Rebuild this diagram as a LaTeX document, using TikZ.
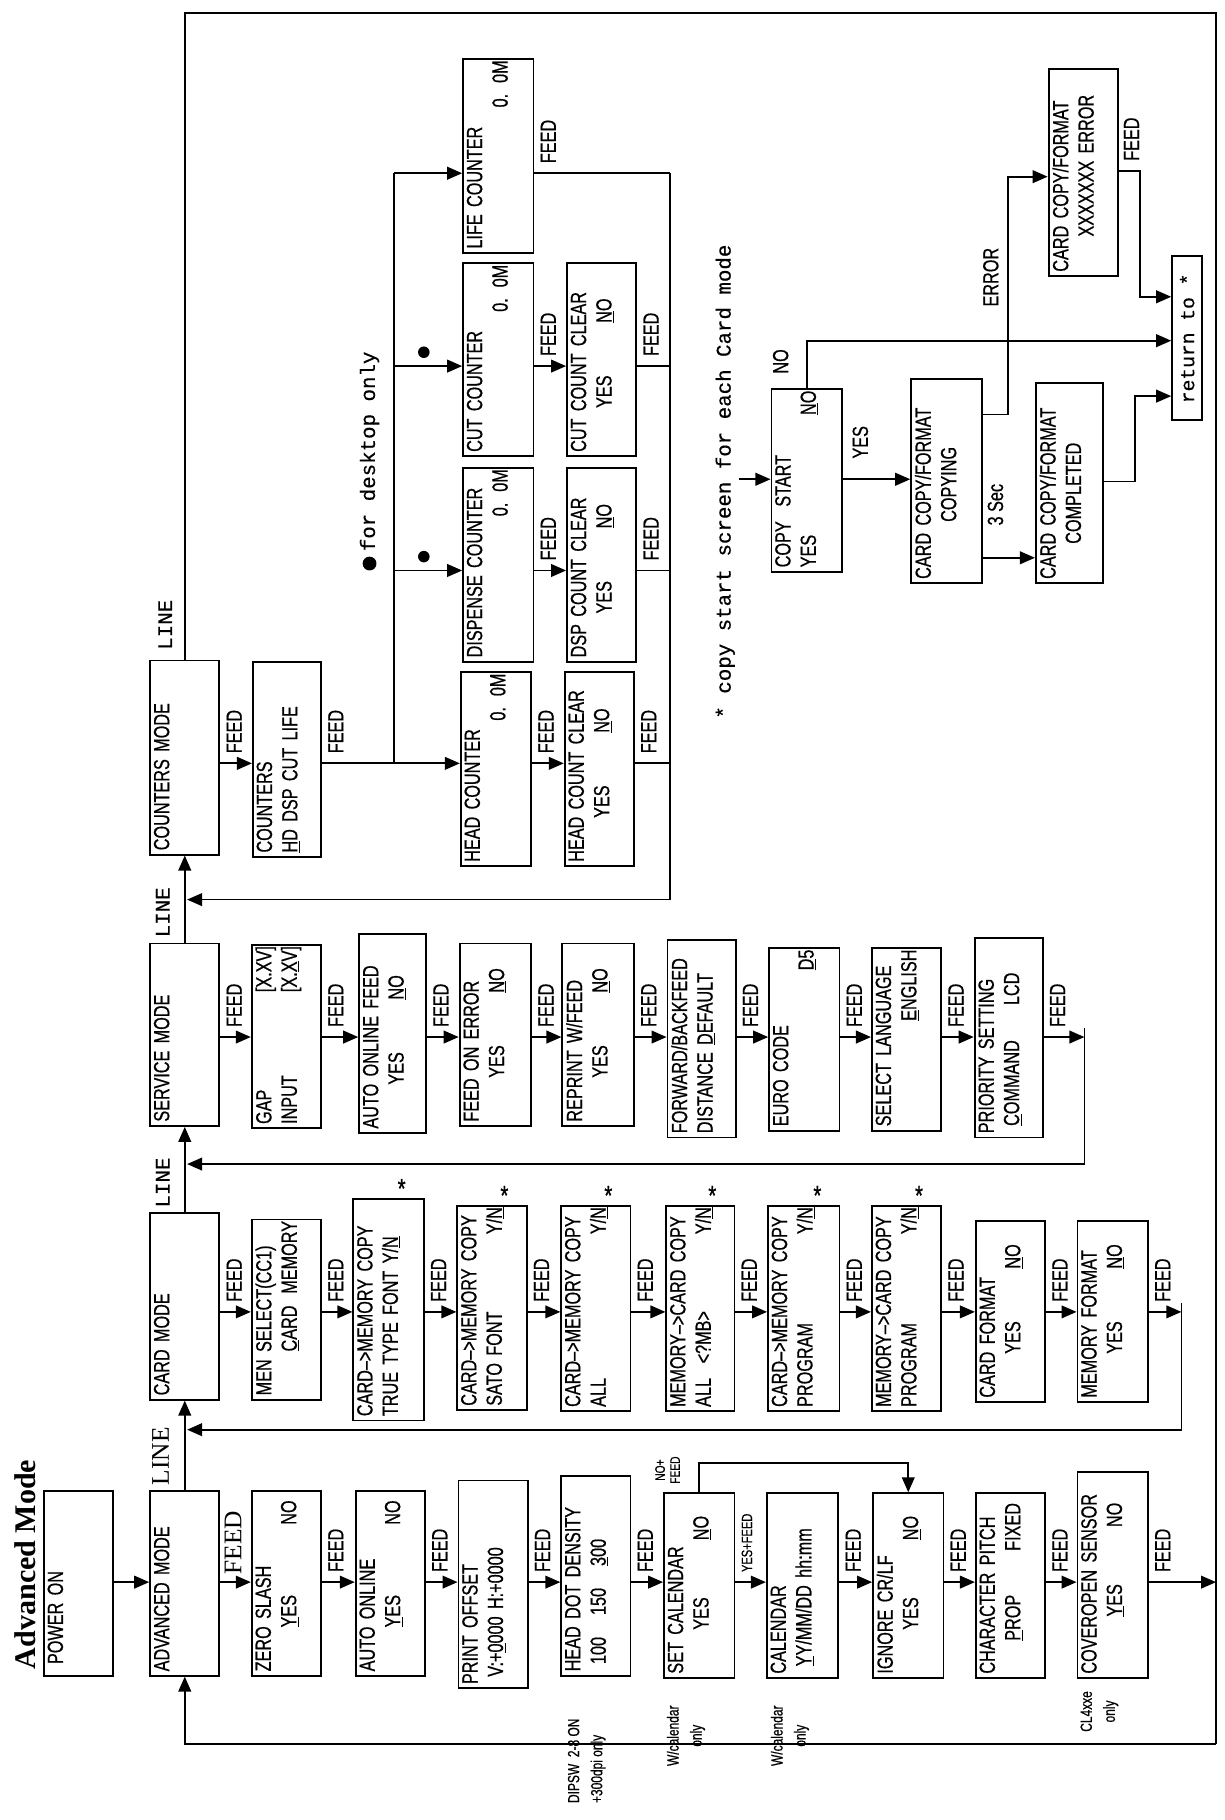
\documentclass[tikz,border=0pt]{standalone}
\usepackage{fontspec}
\usetikzlibrary{arrows.meta}
\newfontfamily\gfont[FakeStretch=0.74,FakeBold=0.6]{Liberation Sans}
\newfontfamily\mfont[FakeBold=0.4]{Liberation Mono}
\newfontfamily\sfont{Liberation Serif}
\newcommand\bxf{\gfont\fontsize{19}{22}\selectfont}
\newcommand\lbf{\gfont\fontsize{19}{20}\selectfont}
\newcommand\smf{\gfont\fontsize{14}{20}\selectfont}
\newcommand\mnf{\mfont\fontsize{18}{20}\selectfont}
\newcommand\bx[6]{%
  \pgfmathsetmacro\bxw{#4-#2}\pgfmathsetmacro\bxh{#5-#3}\pgfmathsetmacro\bxt{#5-#3-5}%
  \node[box,minimum width=\bxw pt,minimum height=\bxh pt] (#1) at ({(#2+#4)/2},{(#3+#5)/2}) {};
  \node[txt,text width=\bxt pt,anchor=north west] at (#2+0.5,#5-1) {#6};}
\newcommand\fd[2]{\path (#1.east|-0,#2) ++(12,-8) node[lab,anchor=west]{FEED};}
\newcommand\astk[1]{\path (#1.north east) ++(-20,-8) node[lab,font=\gfont\fontsize{24}{24}\selectfont,rotate=-90]{*};}
\begin{document}
\begin{tikzpicture}[x=1pt,y=-1pt,line width=1.5pt,
  box/.style={draw,inner sep=0,line width=1.6pt},
  txt/.style={rotate=90,inner sep=2pt,align=left,font=\bxf},
  lab/.style={rotate=90,inner sep=0,font=\lbf},
  arr/.style={-{Triangle[length=13pt,width=11pt]}}]
\fill[white] (0,0) rectangle (1060,1576);
\useasboundingbox (0,0) rectangle (1060,1576);
% ---------- Advanced chain
\node[rotate=90,font=\sfont\bfseries\fontsize{26}{28}\selectfont,anchor=west,inner sep=0] (title) at (22,1446) {Advanced Mode};
\bx{power}{38}{1291}{98}{1451}{\ POWER ON}
\bx{adv}{130}{1291}{190}{1451}{ADVANCED MODE}
\bx{zero}{218}{1291}{278}{1451}{ZERO SLASH\\\hspace{2em}\underline{Y}ES\hspace{3.2em}NO}
\bx{auto}{308}{1291}{368}{1451}{AUTO ONLINE\\\hspace{2em}\underline{Y}ES\hspace{3.2em}NO}
\bx{offset}{397}{1282}{457}{1462}{PRINT OFFSET\\\ V:+\underline{0}000 H:+0000}
\bx{hd}{486}{1278}{546}{1451}{HEAD DOT DENSITY\\\ 100\hspace{1em}150\hspace{1em}\underline{3}00}
\bx{setcal}{575}{1293}{636}{1453}{SET CALENDAR\\\hspace{2em}YES\hspace{2.6em}\underline{N}O}
\bx{cal}{664}{1293}{726}{1453}{CALENDAR\\\ \underline{Y}Y/MM/DD\ hh:mm}
\bx{ign}{756}{1293}{817}{1453}{IGNORE CR/LF\\\hspace{2em}YES\hspace{2.6em}\underline{N}O}
\bx{chr}{845}{1293}{905}{1453}{CHARACTER PITCH\\\hspace{1.5em}\underline{P}ROP\hspace{2em}FIXED}
\bx{cov}{933}{1275}{994}{1453}{COVEROPEN SENSOR\\\hspace{2.6em}\underline{Y}ES\hspace{2.6em}NO}
\foreach \a/\b in {power/adv,adv/zero,zero/auto,auto/offset,offset/hd,hd/setcal,setcal/cal,cal/ign,ign/chr,chr/cov}
  \draw[arr] (\a.east|-0,1370) -- (\b.west|-0,1370);
\path (adv.east|-0,1370) ++(11,-6) node[lab,anchor=west,font=\sfont\fontsize{22}{22}\selectfont]{FEED};
\foreach \a in {zero,auto,offset,hd,cal,ign,chr,cov} {\fd{\a}{1370}}
\path (setcal.east|-0,1370) ++(10,-8) node[lab,anchor=west,font=\gfont\fontsize{13}{14}\selectfont]{YES+FEED};
\node[lab,font=\gfont\fontsize{12}{13}\selectfont,align=center] (nofeed) at (578,1273) {NO+\\FEED};
\coordinate (nf) at (700,1267);
\draw[arr] (setcal.north) |- (nf) -| (ign.north);
% frame
\coordinate (fTL) at (160,11); \coordinate (fTR) at (1053,11);
\coordinate (fBR) at (1053,1510); \coordinate (fBL) at (160,1510);
\draw[arr] (cov.east|-0,1370) -- (fBR|-0,1370);
\draw[arr] (fBR) -- (fBL) -- (adv.south);
% notes
\node[lab,font=\smf,align=left,anchor=north west] (n1) at (491,1562) {DIPSW\ \ 2-8 ON\\+300dpi only};
\node[lab,font=\smf,align=center] (n2) at (594,1503) {W/calendar\\only};
\node[lab,font=\smf,align=center] (n3) at (684,1503) {W/calendar\\only};
\node[lab,font=\smf,align=center] (n4) at (952,1482) {CL4xxe\\only};
% ---------- Card chain
\node[lab,font=\sfont\fontsize{22}{22}\selectfont] (l1) at (139,1261) {LINE};
\bx{card}{130}{1050}{190}{1212}{CARD MODE}
\draw[arr] (adv.north) -- (card.south);
\bx{mensel}{218}{1056}{278}{1212}{MEN SELECT(CC1)\\\hspace{2em}\underline{C}ARD\hfill MEMORY}
\bx{tt}{306}{1038}{367}{1230}{\mbox{CARD–>MEMORY COPY}\\\mbox{TRUE TYPE FONT Y/\underline{N}}}
\bx{sato}{396}{1044}{456}{1221}{\mbox{CARD–>MEMORY COPY}\\SATO FONT\hfill Y/\underline{N}}
\bx{all}{486}{1044}{546}{1222}{\mbox{CARD–>MEMORY COPY}\\ALL\hfill Y/\underline{N}}
\bx{mcall}{577}{1044}{636}{1222}{\mbox{MEMORY–>CARD COPY}\\ALL\ \ <?MB>\hfill Y/\underline{N}}
\bx{cmprog}{665}{1044}{727}{1222}{\mbox{CARD–>MEMORY COPY}\\PROGRAM\hfill Y/\underline{N}}
\bx{mcprog}{755}{1044}{815}{1222}{\mbox{MEMORY–>CARD COPY}\\PROGRAM\hfill Y/\underline{N}}
\bx{cfmt}{845}{1057}{905}{1214}{CARD FORMAT\\\hspace{2em}YES\hspace{2.4em}\underline{N}O}
\bx{mfmt}{933}{1057}{994}{1214}{MEMORY FORMAT\\\hspace{2em}YES\hspace{2.4em}\underline{N}O}
\foreach \a/\b in {card/mensel,mensel/tt,tt/sato,sato/all,all/mcall,mcall/cmprog,cmprog/mcprog,mcprog/cfmt,cfmt/mfmt}
  {\draw[arr] (\a.east|-0,1136) -- (\b.west|-0,1136); \fd{\a}{1136}}
\foreach \a in {tt,sato,all,mcall,cmprog,mcprog} {\astk{\a}}
\coordinate (cR) at (1023,1128); \coordinate (cRb) at (1023,1238); \coordinate (cL) at (162,1238);
\draw[arr] (mfmt.east|-0,1136) -- (cR|-0,1136); \fd{mfmt}{1136}
\draw[arr] (cR) -- (cRb) -- (cL);
% ---------- Service chain
\node[lab,font=\mnf] (l2) at (141,1024) {LINE};
\bx{serv}{130}{817}{190}{975}{SERVICE MODE}
\draw[arr] (card.north) -- (serv.south);
\bx{gap}{218}{818}{278}{977}{GAP\hfill[X.XV]\\INPUT\hfill[X.\underline{X}V]}
\bx{aof}{311}{809}{369}{981}{AUTO ONLINE FEED\\\hspace{2em}YES\hspace{2.4em}\underline{N}O}
\bx{foe}{398}{817}{460}{975}{FEED ON ERROR\\\hspace{2em}YES\hspace{2.4em}\underline{N}O}
\bx{rep}{487}{817}{549}{975}{REPRINT W/FEED\\\hspace{2em}YES\hspace{2.4em}\underline{N}O}
\bx{fwd}{578}{814}{637}{985}{FORWARD/BACKFEED\\DISTANCE \underline{D}EFAULT}
\bx{euro}{666}{821}{727}{979}{EURO CODE\\\hfill\underline{D}5\ \ }
\bx{lang}{755}{821}{815}{979}{SELECT LANGUAGE\\\hfill\underline{E}NGLISH\ \ }
\bx{prio}{844}{812}{903}{985}{PRIORITY SETTING\\\ \underline{C}OMMAND\hspace{1.6em}LCD}
\foreach \a/\b in {serv/gap,gap/aof,aof/foe,foe/rep,rep/fwd,fwd/euro,euro/lang,lang/prio}
  {\draw[arr] (\a.east|-0,898) -- (\b.west|-0,898); \fd{\a}{898}}
\coordinate (sR) at (939,890); \coordinate (sRb) at (939,1008); \coordinate (sL) at (162,1008);
\draw[arr] (prio.east|-0,898) -- (sR|-0,898); \fd{prio}{898}
\draw[arr] (sR) -- (sRb) -- (sL);
% ---------- Counters
\node[lab,font=\mnf] (l3) at (141,790) {LINE};
\node[lab,font=\mnf] (l4) at (143,541) {LINE};
\bx{cnt}{130}{572}{190}{740}{COUNTERS MODE}
\draw[arr] (serv.north) -- (cnt.south);
\draw (cnt.north) -- (fTL) -- (fTR) -- (fBR);
\bx{cntsel}{219}{573}{278}{742}{COUNTERS\\\underline{H}D DSP CUT LIFE}
\bx{head}{399}{582}{460}{750}{HEAD COUNTER\\\hfill 0. 0M\ }
\bx{hclr}{489}{582}{549}{750}{HEAD COUNT CLEAR\\\hspace{2em}YES\hspace{2.4em}\underline{N}O}
\bx{disp}{401}{405}{462}{573}{DISPENSE COUNTER\\\hfill 0. 0M\ }
\bx{dclr}{491}{405}{551}{573}{DSP COUNT CLEAR\\\hspace{2em}YES\hspace{2.4em}\underline{N}O}
\bx{cut}{401}{228}{462}{395}{CUT COUNTER\\\hfill 0. 0M\ }
\bx{cclr}{491}{228}{551}{395}{CUT COUNT CLEAR\\\hspace{2em}YES\hspace{2.4em}\underline{N}O}
\bx{life}{401}{51}{462}{219}{LIFE COUNTER\\\hfill 0. 0M\ }
\draw[arr] (cnt.east|-0,661) -- (cntsel.west|-0,661); \fd{cnt}{661}
\coordinate (kb1) at (341,661); \coordinate (kb2) at (341,150);
\coordinate (kc) at (341,317); \coordinate (kd) at (341,494);
\draw[arr] (cntsel.east|-0,661) -- (head.west|-0,661); \fd{cntsel}{661}
\draw (kb1) -- (kb2);
\draw[arr] (kb2) -- (life.west|-0,150);
\draw[arr] (kc) -- (cut.west|-0,317);
\draw[arr] (kd) -- (disp.west|-0,494);
\fill (367,305) circle (5pt); \fill (367,482) circle (5pt);
\fill (320,488) circle (6pt);
\node[lab,font=\mnf,anchor=west] (desk) at (320,478) {for desktop only};
\draw[arr] (head.east|-0,661) -- (hclr.west|-0,661); \fd{head}{661}
\draw[arr] (disp.east|-0,494) -- (dclr.west|-0,494); \fd{disp}{494}
\draw[arr] (cut.east|-0,317) -- (cclr.west|-0,317); \fd{cut}{317}
\coordinate (kR) at (580,150); \coordinate (kRb) at (580,779); \coordinate (kL) at (162,779);
\draw (life.east|-0,150) -- (kR); \fd{life}{150}
\draw (cclr.east|-0,317) -- (kR|-0,317); \fd{cclr}{317}
\draw (dclr.east|-0,494) -- (kR|-0,494); \fd{dclr}{494}
\draw (hclr.east|-0,661) -- (kR|-0,661); \fd{hclr}{661}
\draw[arr] (kR) -- (kRb) -- (kL);
% ---------- Copy section
\node[lab,font=\mnf,anchor=west] (cnote) at (628,623) {* copy start screen for each Card mode};
\bx{copy}{668}{337}{729}{495}{COPY\ \ START\\YES\hfill\underline{N}O\ \ }
\bx{copying}{789}{328}{850}{505}{CARD COPY/FORMAT\\\hspace{2.6em}COPYING}
\bx{compl}{897}{332}{955}{505}{CARD COPY/FORMAT\\\hspace{1.6em}COMPLETED}
\bx{err}{908}{60}{968}{239}{CARD COPY/FORMAT\\\hspace{1.6em}XXXXXXX ERROR}
\node[box,minimum width=26pt,minimum height=142pt] (ret) at (1028,293) {};
\node[lab,font=\mfont\fontsize{17}{18}\selectfont] at (ret.center) {return to *};
\coordinate (cin) at (640,415);
\draw[arr] (cin) -- (copy.west|-0,415);
\draw[arr] (copy.north) |- (ret.west|-0,295);
\node[lab] (lno) at (676,313) {NO};
\draw[arr] (copy.east|-0,415) -- (copying.west|-0,415);
\node[lab] (lyes) at (745,383) {YES};
\coordinate (ej) at (873,153);
\draw[arr] (copying.east|-0,359) -| (ej) -- (err.west|-0,153);
\node[lab] (lerr) at (858,240) {ERROR};
\draw[arr] (copying.east|-0,483) -- (compl.west|-0,483);
\node[lab] (l3s) at (862,437) {3 Sec};
\coordinate (ec) at (987,257);
\draw[arr] (err.east|-0,148) -| (ec) -- (ret.west|-0,257);
\path (err.east|-0,148) ++(11,-8) node[lab,anchor=west]{FEED};
\coordinate (cc) at (983,343);
\draw[arr] (compl.east|-0,417) -| (cc) -- (ret.west|-0,343);
\end{tikzpicture}
\end{document}
